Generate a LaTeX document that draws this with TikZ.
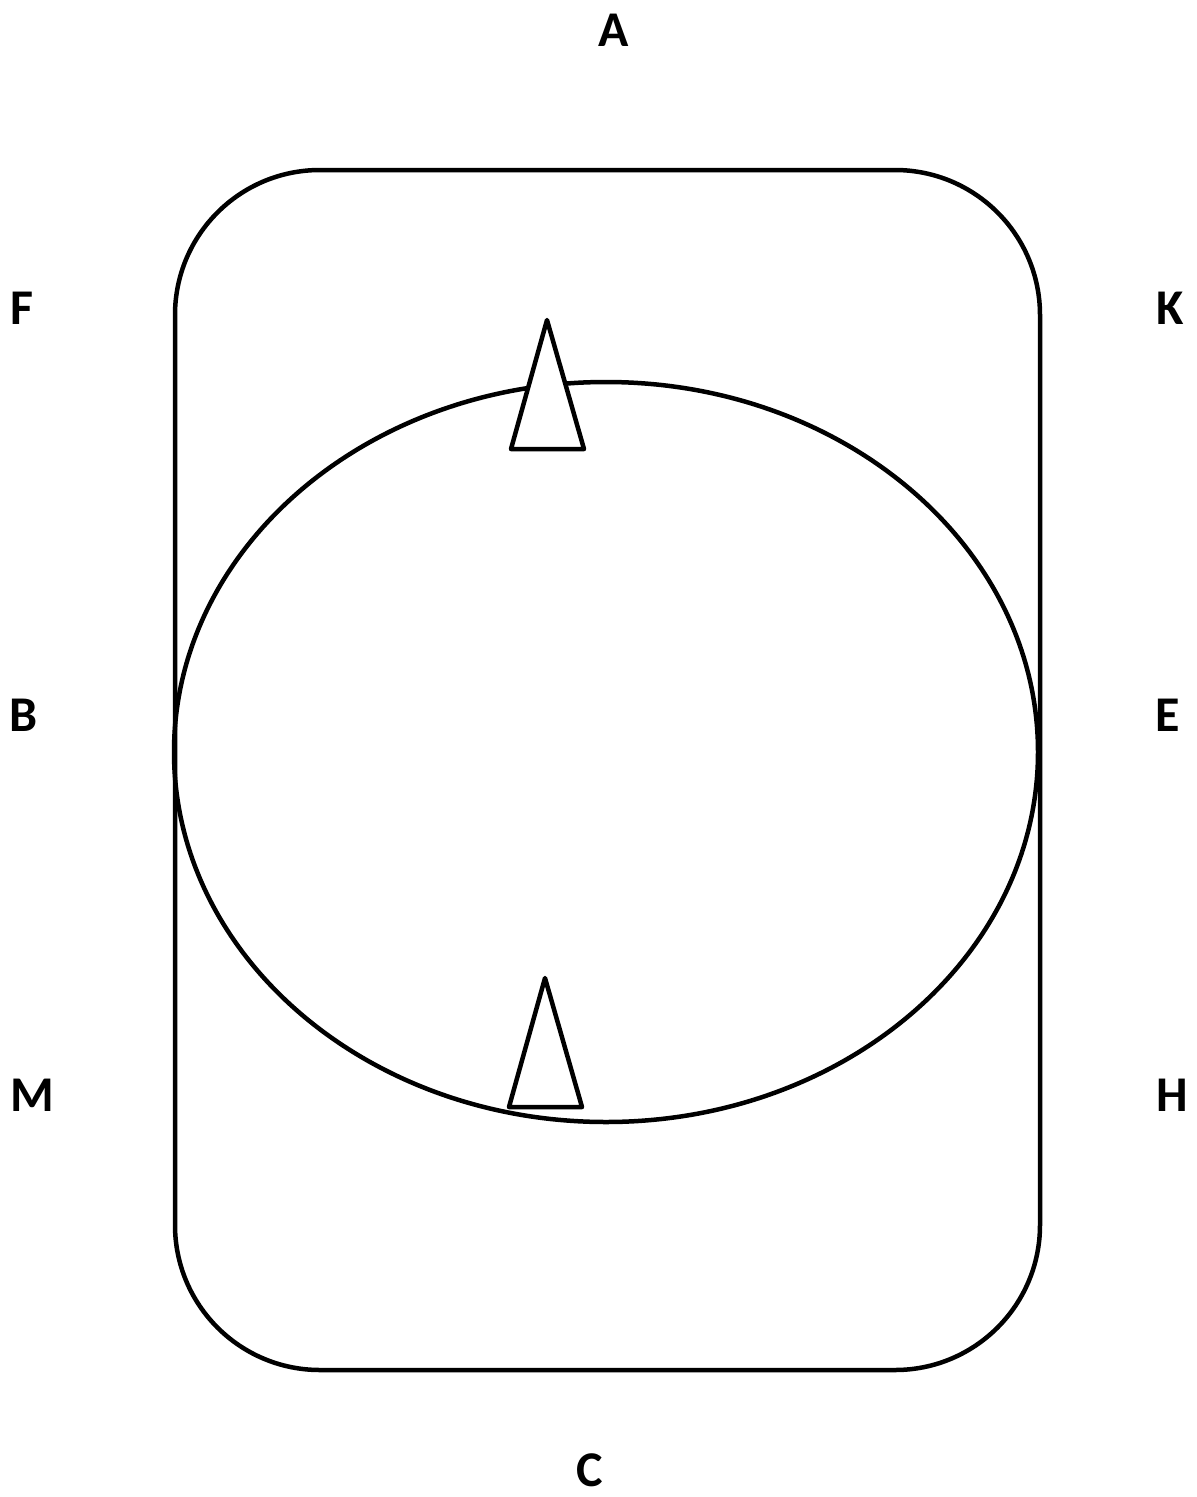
\documentclass[tikz,border=0pt]{standalone}
\usepackage{fontspec}
\setmainfont{Carlito}
\usetikzlibrary{shapes.geometric}
\begin{document}
\begin{tikzpicture}[x=1pt,y=-1pt,
  lbl/.style={font=\bfseries\fontsize{50}{60}\selectfont, inner sep=0pt, anchor=center},
  outline/.style={line width=4.5pt, draw=black},
  tri/.style={line width=4.5pt, draw=black, fill=white, line join=round}]
\useasboundingbox[fill=white] (0,0) rectangle (1197,1497);
% rounded rectangle
\draw[outline, rounded corners=145pt] (175,170) rectangle (1040,1370);
% ellipse
\coordinate (ec) at (606,752);
\draw[outline] (ec) ellipse [x radius=432pt, y radius=370pt];
% triangles
\coordinate (t1a) at (547,320);
\coordinate (t1b) at (584,449);
\coordinate (t1c) at (511,449);
\draw[tri] (t1a) -- (t1b) -- (t1c) -- cycle;
\coordinate (t2a) at (545,978);
\coordinate (t2b) at (582,1107);
\coordinate (t2c) at (509,1107);
\draw[tri] (t2a) -- (t2b) -- (t2c) -- cycle;
% labels
\node[lbl] (A) at (614,30) {A};
\node[lbl] (F) at (22,308) {F};
\node[lbl] (K) at (1170,308) {K};
\node[lbl] (B) at (24,715) {B};
\node[lbl] (E) at (1168,715) {E};
\node[lbl] (M) at (32,1095) {M};
\node[lbl] (H) at (1172,1095) {H};
\node[lbl] (C) at (590,1470) {C};
\end{tikzpicture}
\end{document}
